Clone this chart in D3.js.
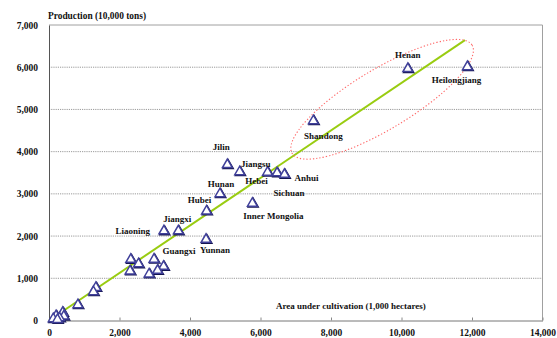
<!DOCTYPE html>
<html><head><meta charset="utf-8">
<script src="https://cdn.jsdelivr.net/npm/d3@7"></script>
<style>
html,body{margin:0;padding:0;background:#fff;}
svg text{font-family:"Liberation Serif","Times New Roman",serif;font-weight:bold;fill:#111;}
</style></head>
<body><svg id="c" width="557" height="338"></svg>
<script>
// ---- data ----
const provinces = ["Heilongjiang","Henan","Shandong","Jilin","Jiangsu","Hebei","Sichuan","Anhui","Hunan","Hubei","Inner Mongolia","Jiangxi","Liaoning","Yunnan","Guangxi",
  "", "", "", "", "", "", "", "", "", "", "", "", "", "", ""];
const area = [11870,10180,7500,5060,5410,6200,6470,6680,4850,4470,5770,3670,3260,4455,2980,
  2320,2540,2300,3250,3080,2840,1330,1260,820,390,420,200,300,120,240];
const production = [6010,5965,4730,3690,3520,3510,3495,3460,3000,2590,2775,2120,2120,1920,1450,
  1445,1340,1170,1280,1185,1100,780,680,370,190,100,110,60,40,20];
const xTicks = [0,2000,4000,6000,8000,10000,12000,14000];
const yTicks = [0,1000,2000,3000,4000,5000,6000,7000];
const trendX = [0, 11800];
const trendY = [0, 6640];
const highlightCenter = [9450, 5240];

// ---- layout ----
const labelOffsets = {
  "Heilongjiang":[-11,16,"middle"], "Henan":[0,-11,"middle"], "Shandong":[10,18,"middle"],
  "Jilin":[-6,-15,"middle"], "Jiangsu":[16,-5,"middle"], "Hebei":[-11,12,"middle"],
  "Sichuan":[12,23,"middle"], "Anhui":[22,7,"middle"], "Hunan":[1,-7,"middle"],
  "Hubei":[-7,-8,"middle"], "Inner Mongolia":[21,16,"middle"], "Jiangxi":[-1,-9,"middle"],
  "Liaoning":[-14,3,"end"], "Yunnan":[9,14,"middle"], "Guangxi":[25,-5,"middle"]
};
const svg = d3.select("#c");
const x = d3.scaleLinear().domain([0,14000]).range([49,542.5]);
const y = d3.scaleLinear().domain([0,7000]).range([320.5,25]);
const fmt = d3.format(",");

// gridlines
svg.append("g").selectAll("line").data(yTicks.filter(v=>v>0 && v<7000)).join("line")
  .attr("x1",x(0)).attr("x2",x(14000)).attr("y1",d=>y(d)).attr("y2",d=>y(d))
  .attr("stroke","#9a9a9a").attr("stroke-width",1).attr("stroke-dasharray","1.2,1");
// frame top/right
svg.append("path").attr("d",`M${x(0)},${y(7000)}H${x(14000)}V${y(0)}`)
  .attr("fill","none").attr("stroke","#a0a0a0").attr("stroke-width",1);

// axes
const xAxis = d3.axisBottom(x).tickValues(xTicks).tickFormat(fmt).tickSizeInner(-3).tickSizeOuter(0).tickPadding(9);
const gx = svg.append("g").attr("transform",`translate(0,${y(0)})`).call(xAxis);
gx.select(".domain").attr("stroke","#777");
gx.selectAll(".tick line").attr("stroke","#888");
gx.selectAll("text").attr("font-size","9.5px").attr("font-family","Liberation Serif").attr("font-weight","bold").attr("fill","#111");
const yAxis = d3.axisLeft(y).tickValues(yTicks).tickFormat(fmt).tickSize(0).tickPadding(11);
const gy = svg.append("g").attr("transform",`translate(${x(0)},0)`).call(yAxis);
gy.select(".domain").attr("stroke","#555");
gy.selectAll("text").attr("font-size","9.5px").attr("font-family","Liberation Serif").attr("font-weight","bold").attr("fill","#111");

// axis titles
svg.append("text").attr("x",48).attr("y",19).attr("font-size","9.4px").text("Production (10,000 tons)");
svg.append("text").attr("x",276).attr("y",309).attr("font-size","9px").text("Area under cultivation  (1,000 hectares)");

// trend line
svg.append("line").attr("x1",x(trendX[0])).attr("y1",y(trendY[0])).attr("x2",x(trendX[1])).attr("y2",y(trendY[1]))
  .attr("stroke","#99cc11").attr("stroke-width",2);

// highlight ellipse
svg.append("ellipse").attr("cx",0).attr("cy",0).attr("rx",105).attr("ry",30)
  .attr("transform",`translate(${x(highlightCenter[0])},${y(highlightCenter[1])}) rotate(-31)`)
  .attr("fill","none").attr("stroke","#ff6a6a").attr("stroke-width",1.1).attr("stroke-dasharray","1.3,2");

// points
const pts = provinces.map((p,i)=>({name:p,a:area[i],v:production[i]}));
const tri = d3.symbol(d3.symbolTriangle, 42);
const g = svg.append("g");
g.selectAll("path.s").data(pts).join("path").attr("class","s")
  .attr("d",tri).attr("transform",d=>`translate(${x(d.a)+0.8},${y(d.v)+0.8})`)
  .attr("fill","none").attr("stroke","#141450").attr("stroke-width",1.6);
g.selectAll("path.m").data(pts).join("path").attr("class","m")
  .attr("d",tri).attr("transform",d=>`translate(${x(d.a)},${y(d.v)})`)
  .attr("fill","#fff").attr("stroke","#40409a").attr("stroke-width",1.5);

// labels
svg.append("g").selectAll("text").data(pts.filter(d=>d.name)).join("text")
  .attr("x",d=>x(d.a)+labelOffsets[d.name][0]).attr("y",d=>y(d.v)+labelOffsets[d.name][1])
  .attr("text-anchor",d=>labelOffsets[d.name][2]).attr("font-size","9px").text(d=>d.name);
</script></body></html>
